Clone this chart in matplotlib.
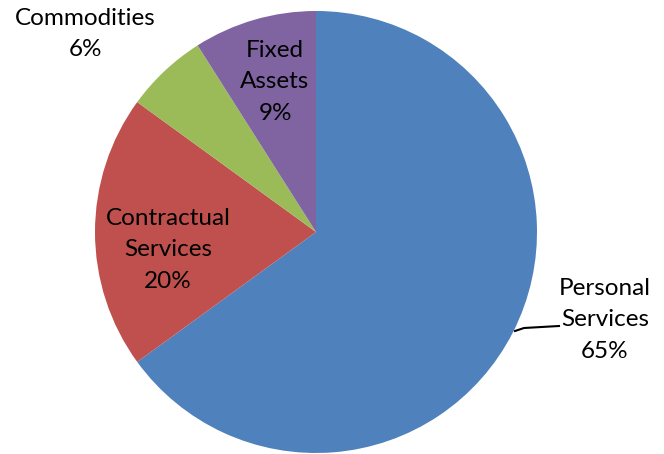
import matplotlib
matplotlib.use("Agg")
import matplotlib.pyplot as plt

categories = ["Personal\nServices", "Contractual\nServices", "Commodities", "Fixed\nAssets"]
values = [65, 20, 6, 9]
colors = ["#4F81BD", "#C0504D", "#9BBB59", "#8064A2"]

W, H = 664, 454
fig = plt.figure(figsize=(W / 100, H / 100), dpi=100)
ax = fig.add_axes([0, 0, 1, 1])
ax.set_xlim(0, W)
ax.set_ylim(0, H)
ax.set_aspect("equal")
ax.axis("off")

cx, cy, r = 316, H - 232, 221
ax.pie(values, colors=colors, startangle=90, counterclock=False,
       center=(cx, cy), radius=r, frame=True,
       wedgeprops=dict(linewidth=0))
ax.set_xlim(0, W)
ax.set_ylim(0, H)
ax.axis("off")

font = dict(family=["Lato", "DejaVu Sans"], fontsize=17.5, ha="center", va="center",
            linespacing=1.62, color="black")
label_pos = [(605, 320), (168, 250), (85, 34), (275, 82)]
for cat, v, (x, y) in zip(categories, values, label_pos):
    ax.text(x, H - y, f"{cat}\n{v}%", **font)

# leader line for Personal Services
ax.plot([515, 524, 559], [H - 331, H - 328, H - 326], color="black", lw=1.5)

fig.savefig("out.png", dpi=100)
